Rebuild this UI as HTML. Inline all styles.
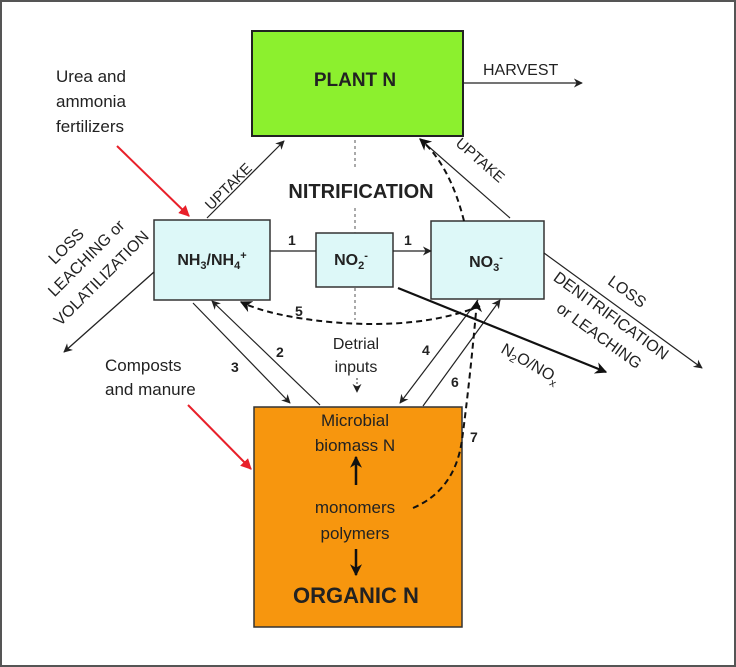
<!DOCTYPE html>
<html><head><meta charset="utf-8"><style>
html,body{margin:0;padding:0;background:#fff}
svg{display:block}
text{font-family:"Liberation Sans","DejaVu Sans",sans-serif;fill:#222}
</style></head><body>
<svg width="736" height="667" viewBox="0 0 736 667" xmlns="http://www.w3.org/2000/svg">
<defs>
<marker id="a" viewBox="0 0 10 10" refX="9" refY="5" markerWidth="9" markerHeight="9" orient="auto" markerUnits="userSpaceOnUse"><path d="M0,0 L10,5 L0,10 L3,5 z" fill="#222"/></marker>
<marker id="ab" viewBox="0 0 10 10" refX="9" refY="5" markerWidth="12" markerHeight="12" orient="auto" markerUnits="userSpaceOnUse"><path d="M0,0 L10,5 L0,10 L3,5 z" fill="#111"/></marker>
<marker id="r" viewBox="0 0 10 10" refX="9" refY="5" markerWidth="11" markerHeight="11" orient="auto" markerUnits="userSpaceOnUse"><path d="M0,0 L10,5 L0,10 z" fill="#e8202a"/></marker>
</defs>
<rect x="1" y="1" width="734" height="665" fill="#fff" stroke="#555" stroke-width="2"/>

<rect x="252" y="31" width="211" height="105" fill="#8cf02e" stroke="#222" stroke-width="2"/>
<text x="355" y="86" font-size="19" font-weight="bold" text-anchor="middle">PLANT N</text>
<rect x="154" y="220" width="116" height="80" fill="#ddf8f8" stroke="#333" stroke-width="1.5"/>
<text x="212" y="265" font-size="16" font-weight="bold" text-anchor="middle">NH<tspan font-size="11" dy="4">3</tspan><tspan dy="-4">/NH</tspan><tspan font-size="11" dy="4">4</tspan><tspan font-size="11" dy="-10">+</tspan></text>
<rect x="316" y="233" width="77" height="54" fill="#ddf8f8" stroke="#333" stroke-width="1.5"/>
<text x="351" y="265" font-size="16" font-weight="bold" text-anchor="middle">NO<tspan font-size="11" dy="4">2</tspan><tspan font-size="11" dy="-10">-</tspan></text>
<rect x="431" y="221" width="113" height="78" fill="#ddf8f8" stroke="#333" stroke-width="1.5"/>
<text x="486" y="267" font-size="16" font-weight="bold" text-anchor="middle">NO<tspan font-size="11" dy="4">3</tspan><tspan font-size="11" dy="-10">-</tspan></text>
<rect x="254" y="407" width="208" height="220" fill="#f7960e" stroke="#333" stroke-width="1.5"/>

<g stroke="#555" stroke-width="1" stroke-dasharray="3,3">
<line x1="355" y1="140" x2="355" y2="168"/><line x1="355" y1="208" x2="355" y2="233"/><line x1="355" y1="288" x2="355" y2="320"/>
</g>
<text x="361" y="198" font-size="20" font-weight="bold" text-anchor="middle">NITRIFICATION</text>

<line x1="463" y1="83" x2="582" y2="83" stroke="#222" stroke-width="1.3" marker-end="url(#a)"/>
<text x="483" y="75" font-size="16">HARVEST</text>

<line x1="207" y1="218" x2="284" y2="141" stroke="#222" stroke-width="1.2" marker-end="url(#a)"/>
<text transform="translate(232,190) rotate(-45)" font-size="15" text-anchor="middle">UPTAKE</text>
<line x1="510" y1="218" x2="420" y2="139" stroke="#222" stroke-width="1.2" marker-end="url(#a)"/>
<text transform="translate(477,164) rotate(41)" font-size="15" text-anchor="middle">UPTAKE</text>
<path d="M464,221 Q450,165 420,139" fill="none" stroke="#111" stroke-width="2" stroke-dasharray="6,4" marker-end="url(#ab)"/>

<line x1="270" y1="251" x2="316" y2="251" stroke="#222" stroke-width="1.2"/>
<text x="288" y="245" font-size="14" font-weight="bold">1</text>
<line x1="393" y1="251" x2="431" y2="251" stroke="#222" stroke-width="1.2" marker-end="url(#a)"/>
<text x="404" y="245" font-size="14" font-weight="bold">1</text>

<line x1="154" y1="272" x2="64" y2="352" stroke="#222" stroke-width="1.3" marker-end="url(#a)"/>
<g font-size="16" text-anchor="middle">
<text transform="translate(70,250) rotate(-45)">LOSS</text>
<text transform="translate(90,262) rotate(-45)">LEACHING or</text>
<text transform="translate(105,282) rotate(-45)">VOLATILIZATION</text>
</g>

<line x1="117" y1="146" x2="189" y2="216" stroke="#e8202a" stroke-width="2" marker-end="url(#r)"/>
<line x1="188" y1="405" x2="251" y2="469" stroke="#e8202a" stroke-width="2" marker-end="url(#r)"/>
<g font-size="17"><text x="56" y="82">Urea and</text><text x="56" y="107">ammonia</text><text x="56" y="132">fertilizers</text>
<text x="105" y="371">Composts</text><text x="105" y="395">and manure</text></g>

<path d="M480,306 Q420,330 330,322 Q270,316 241,302" fill="none" stroke="#111" stroke-width="2" stroke-dasharray="6,4" marker-end="url(#ab)"/>
<text x="295" y="316" font-size="14" font-weight="bold">5</text>

<line x1="193" y1="303" x2="290" y2="403" stroke="#222" stroke-width="1.2" marker-end="url(#a)"/>
<line x1="320" y1="405" x2="212" y2="301" stroke="#222" stroke-width="1.2" marker-end="url(#a)"/>
<text x="231" y="372" font-size="14" font-weight="bold">3</text>
<text x="276" y="357" font-size="14" font-weight="bold">2</text>

<g font-size="16" text-anchor="middle"><text x="356" y="349">Detrial</text><text x="356" y="372">inputs</text></g>
<line x1="357" y1="378" x2="357" y2="392" stroke="#333" stroke-width="1" stroke-dasharray="2,2" marker-end="url(#a)"/>

<line x1="478" y1="300" x2="400" y2="403" stroke="#222" stroke-width="1.2" marker-end="url(#a)"/>
<line x1="423" y1="406" x2="500" y2="300" stroke="#222" stroke-width="1.2" marker-end="url(#a)"/>
<text x="422" y="355" font-size="14" font-weight="bold">4</text>
<text x="451" y="387" font-size="14" font-weight="bold">6</text>

<path d="M413,508 Q455,490 462,440 Q470,380 477,301" fill="none" stroke="#111" stroke-width="2" stroke-dasharray="6,4" marker-end="url(#ab)"/>
<text x="470" y="442" font-size="14" font-weight="bold">7</text>

<line x1="398" y1="288" x2="606" y2="372" stroke="#111" stroke-width="2.2" marker-end="url(#ab)"/>
<text transform="translate(500,352) rotate(30)" font-size="16">N<tspan font-size="11" dy="3">2</tspan><tspan dy="-3">O/NO</tspan><tspan font-size="11" dy="4">x</tspan></text>

<line x1="544" y1="253" x2="702" y2="368" stroke="#222" stroke-width="1.2" marker-end="url(#a)"/>
<g font-size="16" text-anchor="middle">
<text transform="translate(624,296) rotate(36)">LOSS</text>
<text transform="translate(608,320) rotate(36)">DENITRIFICATION</text>
<text transform="translate(596,340) rotate(36)">or LEACHING</text>
</g>

<g font-size="17" text-anchor="middle"><text x="355" y="426">Microbial</text><text x="355" y="451">biomass N</text>
<text x="355" y="513">monomers</text><text x="355" y="539">polymers</text></g>
<line x1="356" y1="485" x2="356" y2="457" stroke="#111" stroke-width="2.5" marker-end="url(#ab)"/>
<line x1="356" y1="549" x2="356" y2="575" stroke="#111" stroke-width="2.5" marker-end="url(#ab)"/>
<text x="356" y="603" font-size="22" font-weight="bold" text-anchor="middle">ORGANIC N</text>
</svg>
</body></html>
